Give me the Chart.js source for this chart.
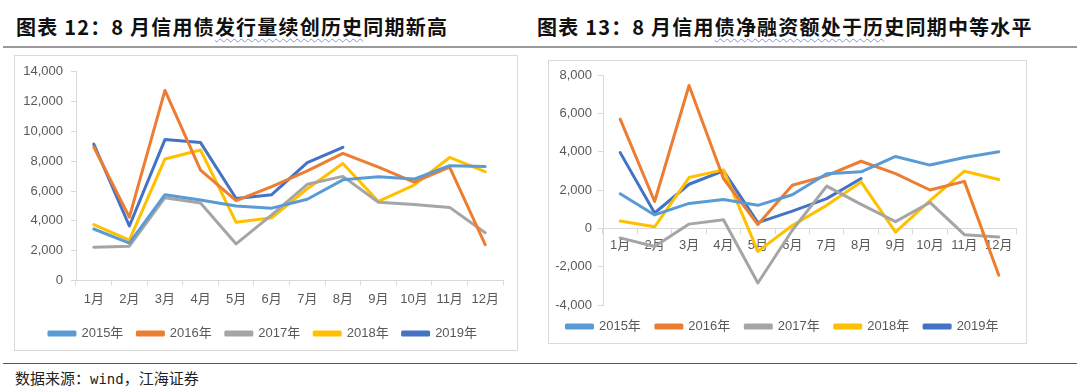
<!DOCTYPE html>
<html lang="zh">
<head>
<meta charset="UTF-8">
<title>信用债发行与净融资</title>
<script src="https://cdn.jsdelivr.net/npm/chart.js"></script>
<style>
  body { margin: 0; background: #fff; width: 1080px; height: 391px; position: relative; overflow: hidden; font-family: "Noto Sans CJK SC", sans-serif; }
  .title { position: absolute; top: 12px; font-size: 20px; font-weight: 700; color: #111; white-space: nowrap; letter-spacing: 1.2px; }
  .wavy { text-decoration: underline wavy #7f95e0; text-decoration-thickness: 1px; text-underline-offset: 3px; }
  .rule { position: absolute; left: 3px; width: 1074px; background: #9a9a9a; }
  .box { position: absolute; border: 1px solid #d9d9d9; background: #fff; }
  .src { position: absolute; left: 15px; top: 367px; font-size: 15px; color: #222; }
  .src .mono { font-family: "DejaVu Sans Mono", monospace; font-size: 14px; }
</style>
</head>
<body>
  <div class="title" style="left:16px">图表 12：8 月信用债<span class="wavy">发行量续创历史</span>同期新高</div>
  <div class="title" style="left:537px">图表 13：8 月信用<span class="wavy">债净融资额处于历</span>史同期中等水平</div>
  <div class="rule" style="top:46px;height:2px"></div>

  <div class="box" style="left:14px;top:55px;width:502px;height:294px">
    <canvas id="issue-chart" width="502" height="294"></canvas>
  </div>
  <div class="box" style="left:548px;top:60px;width:477px;height:282px">
    <canvas id="net-chart" width="477" height="282"></canvas>
  </div>

  <div class="rule" style="top:363px;height:1px;background:#555"></div>
  <div class="src">数据来源：<span class="mono">wind</span>，江海证券</div>

<script>
  // categories
  const months = ['1月', '2月', '3月', '4月', '5月', '6月', '7月', '8月', '9月', '10月', '11月', '12月'];
  const years = ['2015年', '2016年', '2017年', '2018年', '2019年'];
  const colors = ['#5B9BD5', '#ED7D31', '#A5A5A5', '#FFC000', '#4472C4'];

  // 信用债发行量 (亿元)
  const issue2015 = [3450, 2500, 5750, 5400, 5000, 4850, 5450, 6750, 6950, 6800, 7700, 7650];
  const issue2016 = [8950, 4250, 12750, 7400, 5350, 6300, 7350, 8530, 7600, 6600, 7600, 2400];
  const issue2017 = [2220, 2300, 5550, 5200, 2450, 4400, 6450, 6980, 5250, 5100, 4900, 3200];
  const issue2018 = [3750, 2700, 8150, 8750, 3900, 4200, 6150, 7850, 5300, 6400, 8250, 7300];
  const issue2019 = [9150, 3650, 9450, 9250, 5500, 5750, 7900, 8930];

  // 信用债净融资额 (亿元)
  const net2015 = [1800, 700, 1300, 1500, 1200, 1750, 2850, 2950, 3750, 3300, 3700, 4000];
  const net2016 = [5700, 1400, 7450, 2600, 200, 2250, 2750, 3500, 2850, 2000, 2450, -2450];
  const net2017 = [-500, -950, 220, 450, -2850, -100, 2200, 1250, 350, 1350, -330, -450];
  const net2018 = [380, 80, 2650, 3050, -1200, 150, 1200, 2420, -200, 1450, 2980, 2550];
  const net2019 = [3950, 800, 2300, 3000, 300, 900, 1550, 2600];

  const tickFont = { family: '"Liberation Sans Narrow", "Liberation Sans", "Noto Sans CJK SC", sans-serif', size: 13 };
  const tickColor = '#595959';
  const axisColor = '#d9d9d9';

  function lineChart(id, series, opts) {
    const datasets = series.map((data, i) => ({
      label: years[i],
      data: data,
      borderColor: colors[i],
      backgroundColor: colors[i],
      borderWidth: 3,
      pointRadius: 0,
      tension: 0,
      borderJoinStyle: 'round',
      borderCapStyle: 'round'
    }));

    return new Chart(document.getElementById(id), {
      type: 'line',
      data: { labels: months, datasets: datasets },
      options: {
        responsive: false,
        animation: false,
        devicePixelRatio: 1,
        layout: { padding: opts.padding },
        plugins: {
          tooltip: { enabled: false },
          legend: {
            position: 'bottom',
            labels: {
              boxWidth: 26,
              boxHeight: 3,
              padding: opts.legendPad,
              color: tickColor,
              font: { family: tickFont.family, size: 13 }
            }
          }
        },
        scales: {
          x: {
            position: opts.xPosition,
            offset: true,
            grid: { offset: true, drawOnChartArea: false, drawTicks: true, tickLength: 5, color: axisColor },
            border: { color: axisColor },
            ticks: { color: tickColor, font: tickFont, padding: opts.xPad, maxRotation: 0, autoSkip: false }
          },
          y: {
            min: opts.min,
            max: opts.max,
            afterFit: (scale) => { scale.width = opts.yWidth; },
            grid: { drawOnChartArea: false, drawTicks: true, tickLength: 5, color: axisColor },
            border: { color: axisColor },
            ticks: {
              stepSize: 2000,
              color: tickColor,
              font: tickFont,
              padding: opts.yPad,
              callback: (v) => v.toLocaleString('en-US')
            }
          }
        }
      }
    });
  }

  lineChart('issue-chart', [issue2015, issue2016, issue2017, issue2018, issue2019], {
    min: 0, max: 14000,
    padding: { top: 14, right: 14, bottom: 0, left: 8 },
    yWidth: 53, yPad: 8, xPad: 6, legendPad: 14,
    xPosition: 'bottom'
  });

  lineChart('net-chart', [net2015, net2016, net2017, net2018, net2019], {
    min: -4000, max: 8000,
    padding: { top: 14, right: 10, bottom: 0, left: 0 },
    yWidth: 54, yPad: 6, xPad: 4, legendPad: 15,
    xPosition: { y: 0 }
  });
</script>
</body>
</html>
